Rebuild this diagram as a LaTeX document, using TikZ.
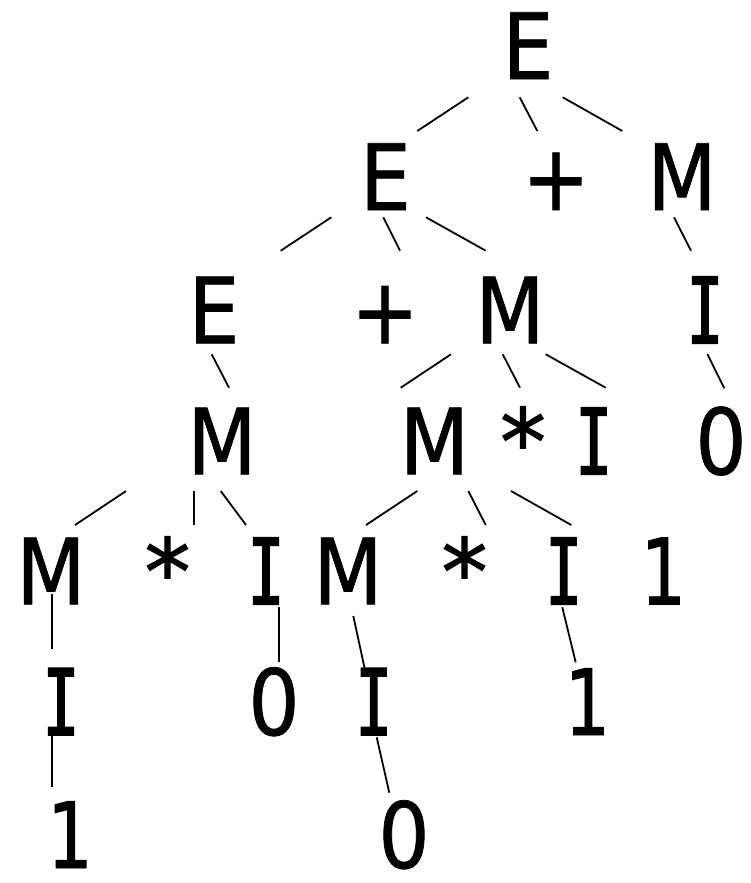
\documentclass[tikz,border=0pt]{standalone}
\usepackage{fontspec}
\setmainfont{DejaVu Sans}[FakeStretch=0.88,FakeBold=0.8]
\newfontfamily\astfont{DejaVu Sans}[FakeBold=1.4]
\newfontfamily\onefont{DejaVu Sans}[FakeStretch=0.78,FakeBold=1]
\newfontfamily\monoI{DejaVu Sans Mono}[FakeStretch=0.66,FakeBold=2]
\begin{document}
\begin{tikzpicture}[x=1pt,y=-1pt,
  sym/.style={inner sep=0pt, outer sep=0pt, anchor=base, font=\fontsize{91.4}{100}\selectfont},
  isym/.style={sym, font=\fontsize{91.4}{100}\selectfont\monoI},
  osym/.style={sym, font=\fontsize{91.4}{100}\selectfont\onefont},
  ssym/.style={sym, font=\fontsize{91.4}{100}\selectfont\astfont},
  edge/.style={line width=1.8pt}]
\useasboundingbox (0,0) rectangle (751,883);
% level 1
\node[sym] (E0) at (528,79) {E};
% level 2
\node[sym] (E1) at (385.5,210) {E};
\node[sym] (P1) at (556,210) {+};
\node[sym] (M1) at (682,210) {M};
% level 3
\node[sym] (E2) at (214,343.3) {E};
\node[sym] (P2) at (385,343.3) {+};
\node[sym] (M2) at (510,343.3) {M};
\node[isym] (I2) at (705,343.3) {I};
% level 4
\node[sym] (M3a) at (222,474.3) {M};
\node[sym] (M3b) at (434.5,474.3) {M};
\node[ssym] (S3) at (523,474.3) {*};
\node[isym] (I3) at (593.7,474.3) {I};
\node[sym] (Z3) at (721,474.3) {0};
% level 5
\node[sym] (M4a) at (51,604.3) {M};
\node[ssym] (S4a) at (167.5,604.3) {*};
\node[isym] (I4a) at (266,604.3) {I};
\node[sym] (M4b) at (348,604.3) {M};
\node[ssym] (S4b) at (464.5,604.3) {*};
\node[isym] (I4b) at (563.7,604.3) {I};
\node[osym] (O4) at (663.3,604.3) {1};
% level 6
\node[isym] (I5a) at (61,735) {I};
\node[sym] (Z5) at (274,735) {0};
\node[isym] (I5b) at (373.7,735) {I};
\node[osym] (O5) at (587.3,735) {1};
% level 7
\node[osym] (O6) at (70,868) {1};
\node[sym] (Z6) at (404,868) {0};
% connector end points
\path (468.3,97.3) coordinate (a1) (417.3,131) coordinate (b1)
      (519.7,97.3) coordinate (a2) (537.3,131) coordinate (b2)
      (562.7,97.3) coordinate (a3) (622.3,131) coordinate (b3)
      (331.3,217.3) coordinate (a4) (280.7,250.7) coordinate (b4)
      (383.3,217.3) coordinate (a5) (400,250.7) coordinate (b5)
      (426,217.3) coordinate (a6) (485.7,250.7) coordinate (b6)
      (674,217.3) coordinate (a7) (691,250.7) coordinate (b7)
      (211.7,354.3) coordinate (a8) (229,387.7) coordinate (b8)
      (451,354.3) coordinate (a9) (400.7,387.7) coordinate (b9)
      (502.7,354.3) coordinate (a10) (520,387.7) coordinate (b10)
      (545.7,354.3) coordinate (a11) (605.7,387.7) coordinate (b11)
      (707.3,354) coordinate (a12) (724.3,388.3) coordinate (b12)
      (126,491) coordinate (a13) (75,525) coordinate (b13)
      (194.3,491) coordinate (a14) (194.3,525) coordinate (b14)
      (220.7,491) coordinate (a15) (246,525) coordinate (b15)
      (417.3,491) coordinate (a16) (366,525) coordinate (b16)
      (468.3,491) coordinate (a17) (485.7,525) coordinate (b17)
      (511,491) coordinate (a18) (571.3,525) coordinate (b18)
      (52.3,594) coordinate (a19) (52.3,649) coordinate (b19)
      (279.3,607) coordinate (a20) (279.3,662) coordinate (b20)
      (353.3,616) coordinate (a21) (365,670) coordinate (b21)
      (562.3,607.3) coordinate (a22) (575.7,662.3) coordinate (b22)
      (52.3,735) coordinate (a23) (52.3,786.7) coordinate (b23)
      (376.7,737.3) coordinate (a24) (389.3,792.7) coordinate (b24);
\foreach \k in {1,...,24} { \draw[edge] (a\k) -- (b\k); }
\end{tikzpicture}
\end{document}
